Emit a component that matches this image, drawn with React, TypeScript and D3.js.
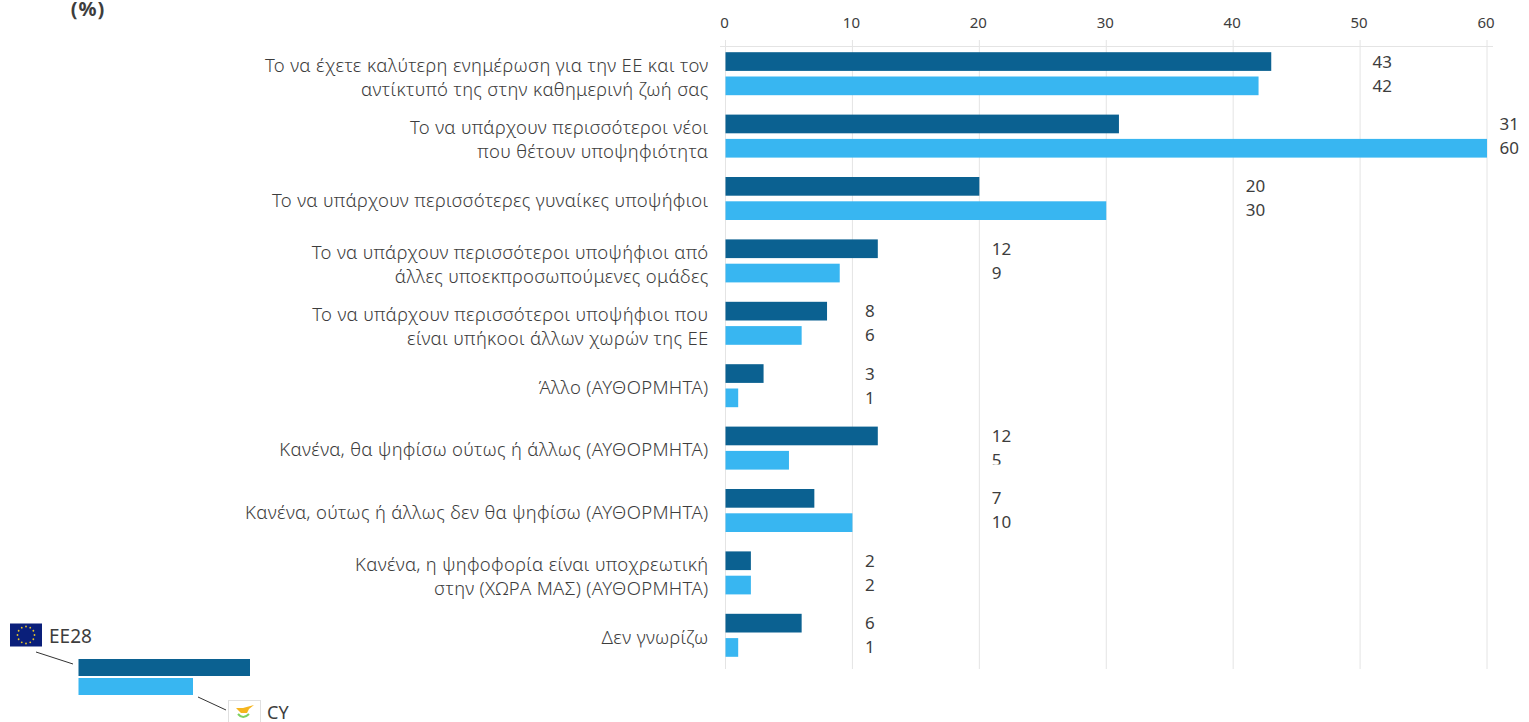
import React from "react";
import * as d3 from "d3";

const categories: string[][] = [
  ["Το να έχετε καλύτερη ενημέρωση για την ΕΕ και τον", "αντίκτυπό της στην καθημερινή ζωή σας"],
  ["Το να υπάρχουν περισσότεροι νέοι", "που θέτουν υποψηφιότητα"],
  ["Το να υπάρχουν περισσότερες γυναίκες υποψήφιοι"],
  ["Το να υπάρχουν περισσότεροι υποψήφιοι από", "άλλες υποεκπροσωπούμενες ομάδες"],
  ["Το να υπάρχουν περισσότεροι υποψήφιοι που", "είναι υπήκοοι άλλων χωρών της ΕΕ"],
  ["Άλλο (ΑΥΘΟΡΜΗΤΑ)"],
  ["Κανένα, θα ψηφίσω ούτως ή άλλως (ΑΥΘΟΡΜΗΤΑ)"],
  ["Κανένα, ούτως ή άλλως δεν θα ψηφίσω (ΑΥΘΟΡΜΗΤΑ)"],
  ["Κανένα, η ψηφοφορία είναι υποχρεωτική", "στην (ΧΩΡΑ ΜΑΣ) (ΑΥΘΟΡΜΗΤΑ)"],
  ["Δεν γνωρίζω"],
];
const eu28 = [43, 31, 20, 12, 8, 3, 12, 7, 2, 6];
const cy = [42, 60, 30, 9, 6, 1, 5, 10, 2, 1];
const ticks = [0, 10, 20, 30, 40, 50, 60];

const DARK = "#0b6191";
const LIGHT = "#38b6f1";
const TEXT = "#3d3d3d";
const GRID = "#e4e4e4";
const FONT = "'Noto Sans', sans-serif";

const x = d3.scaleLinear().domain([0, 60]).range([725.5, 1487]);
const y = d3.scaleBand<number>().domain(d3.range(10)).range([42.5, 666.5]).paddingInner(0).paddingOuter(0);
const labelTick = (m: number) => Math.min(60, (Math.floor(m / 10) + 1) * 10);

export default function App() {
  const stars = d3.range(12).map((i) => {
    const a = (i * Math.PI) / 6;
    return [26 + 8.5 * Math.cos(a), 635 + 8.5 * Math.sin(a)];
  });
  return (
    <svg width={1529} height={722} style={{ position: "absolute", left: 0, top: 0, display: "block" }} fontFamily={FONT}>
      <defs>
        <clipPath id="clip5"><rect x={985} y={440} width={40} height={24.5} /></clipPath>
      </defs>
      <text x={88} y={16} textAnchor="middle" fontSize={20} fontWeight={700} letterSpacing={1} fill={TEXT}>(%)</text>

      <line x1={720} x2={1493} y1={46.5} y2={46.5} stroke={GRID} strokeWidth={1} />
      {ticks.map((t) => (
        <g key={t}>
          <line x1={x(t)} x2={x(t)} y1={40} y2={669} stroke={GRID} strokeWidth={1} />
          <text x={x(t) - 1} y={28} textAnchor="middle" fontSize={15} fill={TEXT}>{t}</text>
        </g>
      ))}

      {categories.map((lines, i) => {
        const top = y(i)!;
        const mid = top + 31;
        const lx = x(labelTick(Math.max(eu28[i], cy[i]))) + 12.5;
        const base = mid + (lines.length > 1 ? 10 : 8.5);
        return (
          <g key={i}>
            <rect x={x(0)} y={top + 9.7} width={x(eu28[i]) - x(0)} height={18.7} fill={DARK} />
            <rect x={x(0)} y={top + 34} width={x(cy[i]) - x(0)} height={18.7} fill={LIGHT} />
            <text x={lx} y={top + 25} fontSize={17} fill={TEXT}>{eu28[i]}</text>
            <g clipPath={i === 6 ? "url(#clip5)" : undefined}>
              <text x={lx} y={top + 49} fontSize={17} fill={TEXT}>{cy[i]}</text>
            </g>
            {lines.map((l, j) => (
              <text key={j} x={708.5} y={base + (j - (lines.length - 1) / 2) * 24} textAnchor="end" fontSize={18.5} fontWeight={300} letterSpacing={0.33} fill={TEXT}>{l}</text>
            ))}
          </g>
        );
      })}

      <rect x={10} y={623.5} width={32} height={23} fill="#0a1f7a" />
      {stars.map(([sx, sy], i) => <circle key={i} cx={sx} cy={sy} r={0.9} fill="#e8c528" />)}
      <text x={49} y={643} fontSize={19} fill={TEXT}>ΕΕ28</text>
      <line x1={36} y1={652} x2={73} y2={664} stroke="#333" strokeWidth={1} />
      <rect x={78.5} y={659} width={171.5} height={17} fill={DARK} />
      <rect x={78.5} y={678} width={114.5} height={17} fill={LIGHT} />
      <line x1={198} y1={697} x2={226} y2={710} stroke="#333" strokeWidth={1} />
      <rect x={228.5} y={700.5} width={32} height={24} fill="#fff" stroke="#e0e0e0" />
      <path d="M236 708 L243 708 L254 705 L249 709 L247 713 L241 713 Z" fill="#f5b51e" />
      <path d="M238 714 Q243 720 249 714" fill="none" stroke="#7fd060" strokeWidth={2} />
      <text x={267} y={719} fontSize={18} fill={TEXT}>CY</text>
    </svg>
  );
}
